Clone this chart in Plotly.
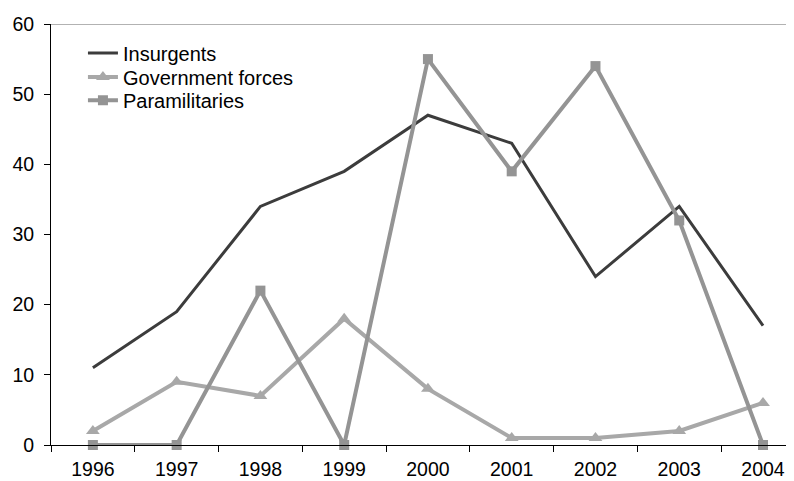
import plotly.graph_objects as go

years = ["1996", "1997", "1998", "1999", "2000", "2001", "2002", "2003", "2004"]
insurgents = [11, 19, 34, 39, 47, 43, 24, 34, 17]
government = [2, 9, 7, 18, 8, 1, 1, 2, 6]
paramilitaries = [0, 0, 22, 0, 55, 39, 54, 32, 0]
y_ticks = [0, 10, 20, 30, 40, 50, 60]

fig = go.Figure()
fig.add_trace(go.Scatter(x=years, y=insurgents, name="Insurgents", mode="lines",
                         line=dict(color="#3c3c3c", width=3), cliponaxis=False,
                         legend="legend"))
fig.add_trace(go.Scatter(x=years, y=government, name="Government forces", mode="lines+markers",
                         line=dict(color="#a8a8a8", width=4),
                         marker=dict(symbol="triangle-up", size=12, color="#a8a8a8"),
                         cliponaxis=False, legend="legend2"))
fig.add_trace(go.Scatter(x=years, y=paramilitaries, name="Paramilitaries", mode="lines+markers",
                         line=dict(color="#949494", width=4),
                         marker=dict(symbol="square", size=10, color="#949494"),
                         cliponaxis=False, legend="legend3"))

fig.add_shape(type="line", xref="paper", yref="y", x0=0, x1=1, y0=60, y1=60,
              line=dict(color="#999999", width=1.5))

leg_common = dict(xanchor="left", yanchor="middle", bgcolor="rgba(0,0,0,0)",
                  font=dict(size=20), itemwidth=30)

fig.update_layout(
    width=786, height=473,
    margin=dict(l=43, r=0, t=16, b=36, autoexpand=False),
    paper_bgcolor="white", plot_bgcolor="white",
    font=dict(family="Liberation Sans, Arial, sans-serif", size=19.5, color="black"),
    showlegend=True,
    legend=dict(x=0.043, y=0.931, **leg_common),
    legend2=dict(x=0.043, y=0.874, **leg_common),
    legend3=dict(x=0.043, y=0.819, **leg_common),
    xaxis=dict(type="category", range=[-0.5, 8.37], showgrid=False, zeroline=False,
               showline=True, linecolor="black", linewidth=1,
               ticks="outside", tickson="boundaries", ticklen=6, tickcolor="black",
               tickfont=dict(size=19.5), ticklabelstandoff=7, automargin=False),
    yaxis=dict(range=[0, 60], tickvals=y_ticks, showgrid=False, zeroline=False,
               showline=True, linecolor="black", linewidth=1,
               ticks="outside", ticklen=6, tickcolor="black",
               tickfont=dict(size=19.5), ticklabelstandoff=6, automargin=False),
)

fig.write_html("out.html")
